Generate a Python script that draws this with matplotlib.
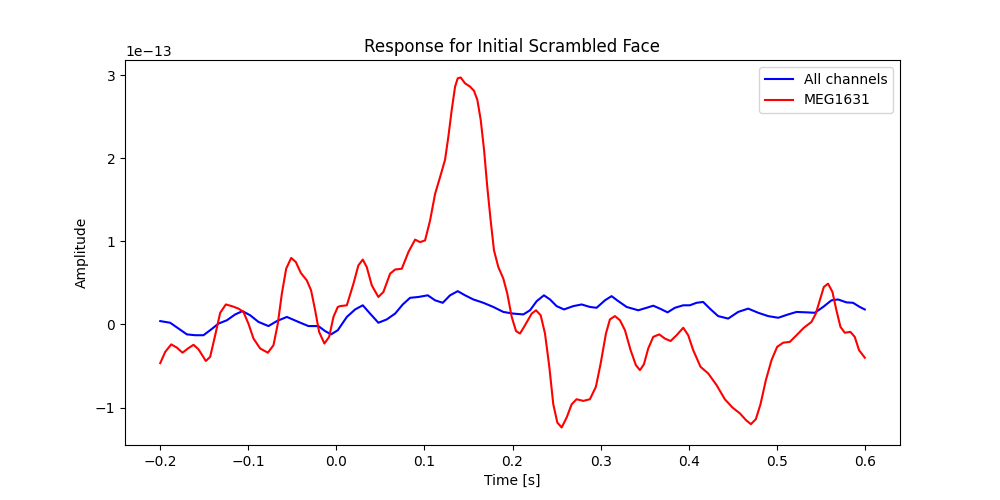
import numpy as np
import matplotlib
matplotlib.use("Agg")
import matplotlib.pyplot as plt

# ===== data (amplitude in units of 1e-13) =====
t_all = [-0.200, -0.1887, -0.1792, -0.1697, -0.1603, -0.1509, -0.1421, -0.1338,
         -0.1243, -0.1149, -0.1066, -0.0979, -0.0884, -0.0771, -0.0676, -0.0562,
         -0.0431, -0.0317, -0.0204, -0.0128, -0.0060, 0.0016, 0.0119, 0.0213,
         0.0300, 0.0383, 0.0477, 0.0572, 0.0667, 0.0754, 0.0837, 0.0931,
         0.1038, 0.1121, 0.1208, 0.1291, 0.1378, 0.1461, 0.1556, 0.1669,
         0.1782, 0.1896, 0.2009, 0.2123, 0.2199, 0.2275, 0.2357, 0.2426,
         0.2501, 0.2584, 0.2690, 0.2785, 0.2879, 0.2955, 0.3050, 0.3125,
         0.3201, 0.3296, 0.3428, 0.3523, 0.3598, 0.3674, 0.3761, 0.3844,
         0.3939, 0.4014, 0.4090, 0.4165, 0.4241, 0.4335, 0.4449, 0.4562,
         0.4676, 0.4790, 0.4903, 0.5017, 0.5130, 0.5225, 0.5338, 0.5433,
         0.5527, 0.5622, 0.5697, 0.5792, 0.5867, 0.5943, 0.600]
amp_all = [0.04, 0.02, -0.05, -0.12, -0.13, -0.13, -0.06, 0.01,
           0.05, 0.12, 0.16, 0.11, 0.03, -0.02, 0.04, 0.09,
           0.03, -0.02, -0.02, -0.08, -0.12, -0.07, 0.09, 0.18,
           0.23, 0.13, 0.02, 0.06, 0.13, 0.24, 0.32, 0.33,
           0.35, 0.29, 0.26, 0.35, 0.40, 0.35, 0.30, 0.26,
           0.21, 0.15, 0.13, 0.12, 0.17, 0.28, 0.35, 0.30,
           0.22, 0.18, 0.22, 0.24, 0.21, 0.20, 0.29, 0.34,
           0.28, 0.21, 0.17, 0.20, 0.225, 0.19, 0.145, 0.20,
           0.23, 0.23, 0.26, 0.27, 0.19, 0.10, 0.07, 0.15,
           0.19, 0.14, 0.10, 0.08, 0.12, 0.15, 0.145, 0.14,
           0.21, 0.29, 0.30, 0.265, 0.26, 0.21, 0.18]

t_meg = [-0.200, -0.1943, -0.1875, -0.1810, -0.1747, -0.1686, -0.1622, -0.1565,
         -0.1482, -0.1433, -0.1376, -0.1319, -0.1255, -0.1187, -0.1111, -0.1055,
         -0.0998, -0.0941, -0.0865, -0.0778, -0.0714, -0.0665, -0.0619, -0.0570,
         -0.0513, -0.0460, -0.0404, -0.0336, -0.0287, -0.0241, -0.0196, -0.0136,
         -0.0082, -0.0033, 0.0016, 0.0043, 0.0119, 0.0194, 0.0250, 0.0300,
         0.0345, 0.0402, 0.0477, 0.0534, 0.0610, 0.0667, 0.0743, 0.0818,
         0.0894, 0.0950, 0.1007, 0.1064, 0.1121, 0.1177, 0.1234, 0.1272,
         0.1310, 0.1348, 0.1378, 0.1412, 0.1461, 0.1518, 0.1563, 0.1601,
         0.1639, 0.1677, 0.1714, 0.1752, 0.1790, 0.1839, 0.1896, 0.1941,
         0.1991, 0.2040, 0.2085, 0.2142, 0.2218, 0.2267, 0.2320, 0.2369,
         0.2418, 0.2463, 0.2509, 0.2558, 0.2615, 0.2672, 0.2728, 0.2804,
         0.2879, 0.2947, 0.3001, 0.3061, 0.3106, 0.3163, 0.3220, 0.3277,
         0.3341, 0.3401, 0.3447, 0.3492, 0.3541, 0.3598, 0.3666, 0.3730,
         0.3795, 0.3863, 0.3939, 0.3995, 0.4052, 0.4135, 0.4222, 0.4317,
         0.4411, 0.4498, 0.4582, 0.4650, 0.4707, 0.4763, 0.4816, 0.4877,
         0.4941, 0.5005, 0.5073, 0.5149, 0.5225, 0.5308, 0.5395, 0.5444,
         0.5489, 0.5535, 0.5583, 0.5633, 0.5678, 0.5724, 0.5773, 0.5837,
         0.5886, 0.5935, 0.600]
amp_meg = [-0.466, -0.33, -0.24, -0.28, -0.34, -0.29, -0.245, -0.30,
           -0.44, -0.39, -0.13, 0.14, 0.24, 0.22, 0.19, 0.15,
           0.008, -0.17, -0.29, -0.34, -0.25, 0.008, 0.37, 0.67,
           0.80, 0.75, 0.62, 0.53, 0.41, 0.17, -0.09, -0.23,
           -0.15, 0.09, 0.21, 0.22, 0.23, 0.49, 0.71, 0.78,
           0.69, 0.47, 0.33, 0.39, 0.61, 0.66, 0.67, 0.87,
           1.02, 0.99, 1.01, 1.25, 1.57, 1.77, 1.98, 2.26,
           2.58, 2.86, 2.96, 2.97, 2.90, 2.86, 2.81, 2.70,
           2.46, 2.10, 1.65, 1.25, 0.89, 0.69, 0.55, 0.37,
           0.09, -0.08, -0.11, -0.01, 0.13, 0.17, 0.11, -0.11,
           -0.51, -0.96, -1.18, -1.24, -1.12, -0.96, -0.90, -0.92,
           -0.90, -0.75, -0.47, -0.11, 0.06, 0.10, 0.05, -0.07,
           -0.31, -0.49, -0.55, -0.48, -0.29, -0.15, -0.12, -0.17,
           -0.20, -0.13, -0.04, -0.13, -0.31, -0.51, -0.59, -0.73,
           -0.90, -1.00, -1.07, -1.15, -1.20, -1.14, -0.96, -0.67,
           -0.43, -0.27, -0.22, -0.21, -0.13, -0.04, 0.03, 0.13,
           0.29, 0.45, 0.49, 0.39, 0.17, -0.03, -0.10, -0.09,
           -0.15, -0.31, -0.40]

scale = 1e-13

fig, ax = plt.subplots(figsize=(10, 5), dpi=100)

ax.plot(t_all, np.array(amp_all) * scale, c='b', label='All channels')
ax.plot(t_meg, np.array(amp_meg) * scale, c='r', label='MEG1631')

ax.set_title('Response for Initial Scrambled Face')
ax.set_xlabel('Time [s]')
ax.set_ylabel('Amplitude')
ax.legend(loc='upper right')

plt.savefig('out.png')
